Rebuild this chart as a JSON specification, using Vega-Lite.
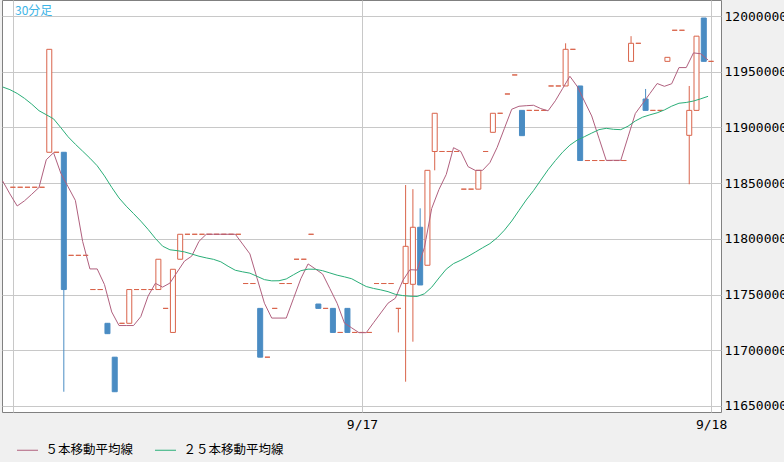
{
  "$schema": "https://vega.github.io/schema/vega-lite/v6.json",
  "width": 719,
  "height": 412,
  "autosize": "none",
  "padding": {"left": 2, "top": 0, "right": 63, "bottom": 50},
  "background": "#f0f0f0",
  "title": {"text": "30分足", "anchor": "start", "frame": "group", "orient": "top", "offset": -27, "dx": 13, "font": "Noto Sans CJK JP", "fontSize": 12, "fontWeight": "normal", "color": "#3cb4e6", "baseline": "alphabetic"},
  "config": {
    "view": {"fill": "white", "stroke": "#808080", "strokeWidth": 1},
    "axis": {"gridColor": "#c8c8c8", "gridWidth": 1, "ticks": false, "domain": false, "labelFont": "DejaVu Sans Mono", "labelFontSize": 13, "labelColor": "#000000", "labelFlush": false, "labelOverlap": false, "title": null}
  },
  "data": {"values": [
    {"k": -1, "m5": 11851900, "m25": 11936300},
    {"k": 0, "o": 11846300, "h": 11846300, "l": 11846300, "c": 11846300, "m5": 11840300, "m25": 11933900},
    {"k": 1, "o": 11846300, "h": 11846300, "l": 11846300, "c": 11846300, "m5": 11829500, "m25": 11930500},
    {"k": 2, "o": 11846300, "h": 11846300, "l": 11846300, "c": 11846300, "m5": 11834100, "m25": 11926100},
    {"k": 3, "o": 11846300, "h": 11846300, "l": 11846300, "c": 11846300, "m5": 11840000, "m25": 11920900},
    {"k": 4, "o": 11846300, "h": 11846300, "l": 11846300, "c": 11846300, "m5": 11846100, "m25": 11915000},
    {"k": 5, "o": 11877700, "h": 11970100, "l": 11877700, "c": 11970100, "m5": 11871000, "m25": 11911400},
    {"k": 6, "o": 11877700, "h": 11877700, "l": 11877700, "c": 11877700, "m5": 11877300, "m25": 11907700},
    {"k": 7, "o": 11877700, "h": 11877700, "l": 11662800, "c": 11754500, "m5": 11858900, "m25": 11899800},
    {"k": 8, "o": 11785200, "h": 11785200, "l": 11785200, "c": 11785200, "m5": 11846700, "m25": 11891600},
    {"k": 9, "o": 11785200, "h": 11785200, "l": 11785200, "c": 11785200, "m5": 11834500, "m25": 11884900},
    {"k": 10, "o": 11785200, "h": 11785200, "l": 11785200, "c": 11785200, "m5": 11797700, "m25": 11878700},
    {"k": 11, "o": 11754500, "h": 11754500, "l": 11754500, "c": 11754500, "m5": 11773000, "m25": 11872400},
    {"k": 12, "o": 11754500, "h": 11754500, "l": 11754500, "c": 11754500, "m5": 11773000, "m25": 11865600},
    {"k": 13, "o": 11724200, "h": 11724200, "l": 11714900, "c": 11714900, "m5": 11759000, "m25": 11856500},
    {"k": 14, "o": 11693800, "h": 11693800, "l": 11662800, "c": 11662800, "m5": 11734400, "m25": 11846200},
    {"k": 15, "o": 11724200, "h": 11724200, "l": 11724200, "c": 11724200, "m5": 11722200, "m25": 11836700},
    {"k": 16, "o": 11724200, "h": 11754500, "l": 11724200, "c": 11754500, "m5": 11722200, "m25": 11829300},
    {"k": 17, "o": 11754500, "h": 11754500, "l": 11754500, "c": 11754500, "m5": 11722200, "m25": 11822700},
    {"k": 18, "o": 11754500, "h": 11754500, "l": 11754500, "c": 11754500, "m5": 11730200, "m25": 11815900},
    {"k": 19, "o": 11754500, "h": 11754500, "l": 11754500, "c": 11754500, "m5": 11748600, "m25": 11808500},
    {"k": 20, "o": 11754500, "h": 11781700, "l": 11754500, "c": 11781700, "m5": 11760100, "m25": 11800400},
    {"k": 21, "o": 11737600, "h": 11737600, "l": 11737600, "c": 11737600, "m5": 11756700, "m25": 11793400},
    {"k": 22, "o": 11716000, "h": 11772700, "l": 11716000, "c": 11772700, "m5": 11760300, "m25": 11790200},
    {"k": 23, "o": 11781700, "h": 11804100, "l": 11781700, "c": 11804100, "m5": 11770200, "m25": 11789400},
    {"k": 24, "o": 11804100, "h": 11804100, "l": 11804100, "c": 11804100, "m5": 11780000, "m25": 11788300},
    {"k": 25, "o": 11804100, "h": 11804100, "l": 11804100, "c": 11804100, "m5": 11784500, "m25": 11786400},
    {"k": 26, "o": 11804100, "h": 11804100, "l": 11804100, "c": 11804100, "m5": 11797800, "m25": 11784400},
    {"k": 27, "o": 11804100, "h": 11804100, "l": 11804100, "c": 11804100, "m5": 11804100, "m25": 11782900},
    {"k": 28, "o": 11804100, "h": 11804100, "l": 11804100, "c": 11804100, "m5": 11804100, "m25": 11781600},
    {"k": 29, "o": 11804100, "h": 11804100, "l": 11804100, "c": 11804100, "m5": 11804100, "m25": 11779400},
    {"k": 30, "o": 11804100, "h": 11804100, "l": 11804100, "c": 11804100, "m5": 11804100, "m25": 11775400},
    {"k": 31, "o": 11804100, "h": 11804100, "l": 11804100, "c": 11804100, "m5": 11804100, "m25": 11771800},
    {"k": 32, "o": 11759900, "h": 11759900, "l": 11759900, "c": 11759900, "m5": 11795300, "m25": 11770400},
    {"k": 33, "o": 11759900, "h": 11759900, "l": 11759900, "c": 11759900, "m5": 11786500, "m25": 11769200},
    {"k": 34, "o": 11737600, "h": 11737600, "l": 11693800, "c": 11693800, "m5": 11764300, "m25": 11766300},
    {"k": 35, "o": 11693800, "h": 11693800, "l": 11693800, "c": 11693800, "m5": 11742200, "m25": 11763400},
    {"k": 36, "o": 11737600, "h": 11737600, "l": 11737600, "c": 11737600, "m5": 11728900, "m25": 11762300},
    {"k": 37, "o": 11759900, "h": 11759900, "l": 11759900, "c": 11759900, "m5": 11728900, "m25": 11762400},
    {"k": 38, "o": 11759900, "h": 11759900, "l": 11759900, "c": 11759900, "m5": 11728900, "m25": 11764000},
    {"k": 39, "o": 11781700, "h": 11781700, "l": 11781700, "c": 11781700, "m5": 11746600, "m25": 11767800},
    {"k": 40, "o": 11781700, "h": 11781700, "l": 11781700, "c": 11781700, "m5": 11764200, "m25": 11771400},
    {"k": 41, "o": 11804100, "h": 11804100, "l": 11804100, "c": 11804100, "m5": 11777500, "m25": 11772800},
    {"k": 42, "o": 11741500, "h": 11741500, "l": 11737600, "c": 11737600, "m5": 11773000, "m25": 11772700},
    {"k": 43, "o": 11737600, "h": 11737600, "l": 11737600, "c": 11737600, "m5": 11768400, "m25": 11771400},
    {"k": 44, "o": 11737600, "h": 11737600, "l": 11716000, "c": 11716000, "m5": 11755300, "m25": 11769400},
    {"k": 45, "o": 11716000, "h": 11716000, "l": 11716000, "c": 11716000, "m5": 11742100, "m25": 11767400},
    {"k": 46, "o": 11737600, "h": 11737600, "l": 11716000, "c": 11716000, "m5": 11724400, "m25": 11765900},
    {"k": 47, "o": 11716000, "h": 11716000, "l": 11716000, "c": 11716000, "m5": 11720100, "m25": 11764200},
    {"k": 48, "o": 11716000, "h": 11716000, "l": 11716000, "c": 11716000, "m5": 11715800, "m25": 11760600},
    {"k": 49, "o": 11716000, "h": 11716000, "l": 11716000, "c": 11716000, "m5": 11715800, "m25": 11757200},
    {"k": 50, "o": 11759900, "h": 11759900, "l": 11759900, "c": 11759900, "m5": 11724700, "m25": 11755500},
    {"k": 51, "o": 11759900, "h": 11759900, "l": 11759900, "c": 11759900, "m5": 11733500, "m25": 11754200},
    {"k": 52, "o": 11759900, "h": 11759900, "l": 11759900, "c": 11759900, "m5": 11742300, "m25": 11752600},
    {"k": 53, "o": 11737600, "h": 11737600, "l": 11716000, "c": 11737600, "m5": 11746700, "m25": 11750200},
    {"k": 54, "o": 11759900, "h": 11848300, "l": 11671800, "c": 11793300, "m5": 11762300, "m25": 11749100},
    {"k": 55, "o": 11759200, "h": 11844600, "l": 11707700, "c": 11810400, "m5": 11772300, "m25": 11748500},
    {"k": 56, "o": 11810400, "h": 11827400, "l": 11758600, "c": 11758600, "m5": 11772000, "m25": 11748300},
    {"k": 57, "o": 11776300, "h": 11861500, "l": 11776300, "c": 11861500, "m5": 11792300, "m25": 11750700},
    {"k": 58, "o": 11878400, "h": 11912700, "l": 11861500, "c": 11912700, "m5": 11827300, "m25": 11756600},
    {"k": 59, "o": 11878400, "h": 11878400, "l": 11878400, "c": 11878400, "m5": 11844300, "m25": 11764900},
    {"k": 60, "o": 11878400, "h": 11878400, "l": 11878400, "c": 11878400, "m5": 11857800, "m25": 11772800},
    {"k": 61, "o": 11878400, "h": 11878400, "l": 11878400, "c": 11878400, "m5": 11881800, "m25": 11777800},
    {"k": 62, "o": 11844600, "h": 11844600, "l": 11844600, "c": 11844600, "m5": 11878400, "m25": 11780800},
    {"k": 63, "o": 11844600, "h": 11844600, "l": 11844600, "c": 11844600, "m5": 11864800, "m25": 11784300},
    {"k": 64, "o": 11844600, "h": 11861500, "l": 11844600, "c": 11861500, "m5": 11861400, "m25": 11788100},
    {"k": 65, "o": 11878400, "h": 11878400, "l": 11878400, "c": 11878400, "m5": 11861500, "m25": 11792000},
    {"k": 66, "o": 11895600, "h": 11912700, "l": 11895600, "c": 11912700, "m5": 11868400, "m25": 11795700},
    {"k": 67, "o": 11912700, "h": 11912700, "l": 11912700, "c": 11912700, "m5": 11882100, "m25": 11801000},
    {"k": 68, "o": 11930000, "h": 11930000, "l": 11930000, "c": 11930000, "m5": 11899200, "m25": 11807800},
    {"k": 69, "o": 11947100, "h": 11947100, "l": 11947100, "c": 11947100, "m5": 11916300, "m25": 11816000},
    {"k": 70, "o": 11915300, "h": 11915300, "l": 11892600, "c": 11892600, "m5": 11919000, "m25": 11825500},
    {"k": 71, "o": 11915300, "h": 11915300, "l": 11915300, "c": 11915300, "m5": 11919500, "m25": 11834900},
    {"k": 72, "o": 11915300, "h": 11915300, "l": 11915300, "c": 11915300, "m5": 11919900, "m25": 11843300},
    {"k": 73, "o": 11915300, "h": 11915300, "l": 11915300, "c": 11915300, "m5": 11916900, "m25": 11852700},
    {"k": 74, "o": 11937200, "h": 11937200, "l": 11937200, "c": 11937200, "m5": 11914900, "m25": 11862000},
    {"k": 75, "o": 11937200, "h": 11937200, "l": 11937200, "c": 11937200, "m5": 11923900, "m25": 11870200},
    {"k": 76, "o": 11937200, "h": 11975500, "l": 11937200, "c": 11970100, "m5": 11934900, "m25": 11877800},
    {"k": 77, "o": 11970100, "h": 11970100, "l": 11970100, "c": 11970100, "m5": 11945900, "m25": 11884100},
    {"k": 78, "o": 11937200, "h": 11937200, "l": 11870300, "c": 11870300, "m5": 11936900, "m25": 11888600},
    {"k": 79, "o": 11870300, "h": 11870300, "l": 11870300, "c": 11870300, "m5": 11923600, "m25": 11891700},
    {"k": 80, "o": 11870300, "h": 11870300, "l": 11870300, "c": 11870300, "m5": 11910300, "m25": 11894900},
    {"k": 81, "o": 11870300, "h": 11870300, "l": 11870300, "c": 11870300, "m5": 11890300, "m25": 11898000},
    {"k": 82, "o": 11870300, "h": 11870300, "l": 11870300, "c": 11870300, "m5": 11870400, "m25": 11899200},
    {"k": 83, "o": 11870300, "h": 11870300, "l": 11870300, "c": 11870300, "m5": 11870500, "m25": 11898300},
    {"k": 84, "o": 11870300, "h": 11870300, "l": 11870300, "c": 11870300, "m5": 11870500, "m25": 11898000},
    {"k": 85, "o": 11959300, "h": 11981900, "l": 11959300, "c": 11975500, "m5": 11891500, "m25": 11901100},
    {"k": 86, "o": 11975500, "h": 11975500, "l": 11975500, "c": 11975500, "m5": 11912500, "m25": 11905800},
    {"k": 87, "o": 11925500, "h": 11934500, "l": 11915300, "c": 11915300, "m5": 11921400, "m25": 11909200},
    {"k": 88, "o": 11915300, "h": 11915300, "l": 11915300, "c": 11915300, "m5": 11930400, "m25": 11911300},
    {"k": 89, "o": 11915300, "h": 11915300, "l": 11915300, "c": 11915300, "m5": 11939400, "m25": 11913100},
    {"k": 90, "o": 11959300, "h": 11962900, "l": 11959300, "c": 11962900, "m5": 11936900, "m25": 11915700},
    {"k": 91, "o": 11987200, "h": 11987200, "l": 11987200, "c": 11987200, "m5": 11939200, "m25": 11919100},
    {"k": 92, "o": 11987200, "h": 11987200, "l": 11987200, "c": 11987200, "m5": 11953700, "m25": 11921700},
    {"k": 93, "o": 11892900, "h": 11937200, "l": 11849000, "c": 11915300, "m5": 11953700, "m25": 11922400},
    {"k": 94, "o": 11915300, "h": 11981900, "l": 11915300, "c": 11981900, "m5": 11966900, "m25": 11923700},
    {"k": 95, "o": 11998200, "h": 11998200, "l": 11959300, "c": 11959300, "m5": 11966100, "m25": 11925700},
    {"k": 96, "o": 11959300, "h": 11959300, "l": 11959300, "c": 11959300, "m5": 11960500, "m25": 11927900}
  ]},
  "encoding": {
    "x": {"field": "k", "type": "quantitative",
      "scale": {"domain": [-0.8136, 96.68], "nice": false, "zero": false},
      "axis": {"orient": "bottom", "values": [0, 48, 96], "labelExpr": "datum.value == 48 ? '9/17' : (datum.value == 96 ? '9/18' : '')", "grid": true, "labelPadding": 6}}
  },
  "layer": [
    {
      "mark": {"type": "rule", "strokeWidth": 1},
      "encoding": {
        "y": {"field": "l", "type": "quantitative",
          "scale": {"domain": [11644600, 12014360], "nice": false, "zero": false},
          "axis": {"orient": "right", "values": [11650000, 11700000, 11750000, 11800000, 11850000, 11900000, 11950000, 12000000], "format": "d", "grid": true, "labelPadding": 3}},
        "y2": {"field": "h"},
        "stroke": {"condition": {"test": "datum.c < datum.o", "value": "#4a8cc3"}, "value": "#d9644b"}
      }
    },
    {
      "mark": {"type": "bar", "size": 5, "strokeWidth": 1},
      "encoding": {
        "y": {"field": "o", "type": "quantitative"},
        "y2": {"field": "c"},
        "fill": {"condition": {"test": "datum.c < datum.o", "value": "#4a8cc3"}, "value": "#ffffff"},
        "stroke": {"condition": {"test": "datum.c < datum.o", "value": "#4a8cc3"}, "value": "#d9644b"}
      }
    },
    {
      "transform": [{"fold": ["m5", "m25"], "as": ["s", "v"]}],
      "mark": {"type": "line", "strokeWidth": 1, "xOffset": -3, "clip": true},
      "encoding": {
        "y": {"field": "v", "type": "quantitative"},
        "color": {"field": "s", "type": "nominal",
          "scale": {"domain": ["m5", "m25"], "range": ["#b0607e", "#2aae78"]},
          "legend": {"title": null, "orient": "none", "legendX": 14.5, "legendY": 439, "direction": "horizontal", "symbolType": "stroke", "symbolSize": 441, "symbolStrokeWidth": 1, "labelFont": "Noto Sans CJK JP", "labelFontSize": 12.5, "labelColor": "#000000", "labelOffset": 7, "columnPadding": 19, "padding": 0,
            "labelExpr": "datum.value == 'm5' ? '５本移動平均線' : '２５本移動平均線'"}}
      }
    }
  ]
}
